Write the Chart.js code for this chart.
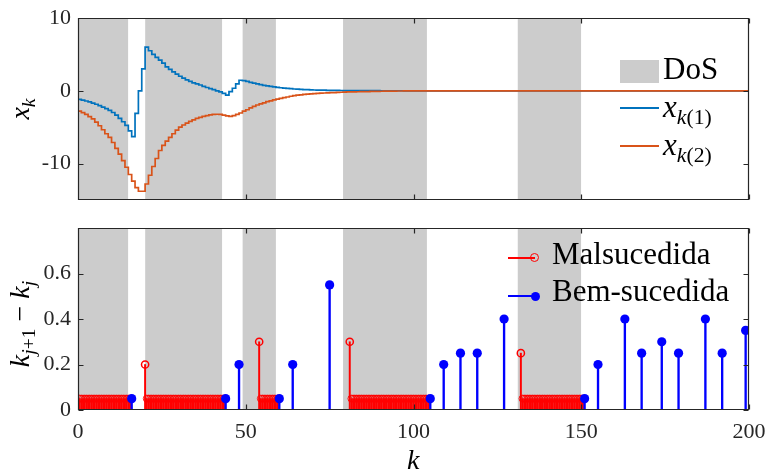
<!DOCTYPE html>
<html>
<head>
<meta charset="utf-8">
<script src="https://cdn.jsdelivr.net/npm/chart.js@4.4.0/dist/chart.umd.min.js"></script>
<style>
html,body{margin:0;padding:0;background:#fff;}
#wrap{position:relative;width:767px;height:474px;overflow:hidden;font-family:"Liberation Serif","DejaVu Serif",serif;color:#000;}
canvas{position:absolute;left:0;}
.lbl{position:absolute;white-space:nowrap;line-height:1;}
.rot{transform:translate(-50%,-50%) rotate(-90deg);}
.it{font-style:italic;}
.sb{font-size:0.7em;position:relative;top:0.32em;}
.sw{position:absolute;}
</style>
</head>
<body>
<div id="wrap">
  <canvas id="cTop" width="767" height="210" style="top:0px"></canvas>
  <canvas id="cBot" width="767" height="264" style="top:210px"></canvas>

  <!-- axis titles -->
  <div class="lbl rot" style="left:20px;top:109px;font-size:28px;"><span class="it">x</span><span class="sb it">k</span></div>
  <div class="lbl rot" style="left:20px;top:324px;font-size:28px;"><span class="it">k</span><span class="sb"><span class="it">j</span>+1</span> − <span class="it">k</span><span class="sb it">j</span></div>
  <div class="lbl" style="left:407px;top:446px;font-size:28px;"><span class="it">k</span></div>

  <!-- top legend -->
  <div class="sw" style="left:620px;top:60px;width:39px;height:23px;background:#cccccc;"></div>
  <div class="lbl" style="left:663px;top:53px;font-size:31px;">DoS</div>
  <div class="sw" style="left:620px;top:107px;width:39px;height:2px;background:#0072BD;"></div>
  <div class="lbl" style="left:663px;top:91px;font-size:31px;"><span class="it">x</span><span class="sb"><span class="it">k</span>(1)</span></div>
  <div class="sw" style="left:620px;top:145px;width:39px;height:2px;background:#D95319;"></div>
  <div class="lbl" style="left:663px;top:129px;font-size:31px;"><span class="it">x</span><span class="sb"><span class="it">k</span>(2)</span></div>

  <!-- bottom legend -->
  <div class="sw" style="left:508px;top:257px;width:27px;height:2px;background:#ff0000;"></div>
  <div class="sw" style="left:530px;top:253px;width:7px;height:7px;border:1.4px solid #ff0000;border-radius:50%;background:transparent;"></div>
  <div class="lbl" style="left:552px;top:238px;font-size:31px;">Malsucedida</div>
  <div class="sw" style="left:508px;top:295px;width:27px;height:2px;background:#0000ff;"></div>
  <div class="sw" style="left:531px;top:292px;width:9px;height:9px;border-radius:50%;background:#0000ff;"></div>
  <div class="lbl" style="left:552px;top:275px;font-size:31px;">Bem-sucedida</div>
</div>

<script>
// ---------------- DATA ----------------
// DoS attack intervals (k)
const dosStart = [0, 20, 49, 79, 131];
const dosEnd   = [15, 43, 59, 104, 150];

// state x_k(1), k = 0..200
const x1 = [
 -1.17,-1.28,-1.40,-1.53,-1.68,-1.85,-2.03,-2.23,-2.45,-2.70,
 -2.98,-3.35,-3.80,-4.25,-4.75,-5.50,-6.30,-3.10,0.00,3.00,
 6.00,5.50,5.00,4.60,4.20,3.80,3.30,2.95,2.60,2.30,
 2.00,1.75,1.50,1.30,1.10,0.95,0.80,0.60,0.45,0.30,
 0.15,0.00,-0.15,-0.35,-0.60,-0.10,0.35,0.95,1.45,1.40,
 1.30,1.15,1.05,0.95,0.85,0.75,0.68,0.60,0.53,0.47,
 0.42,0.37,0.33,0.29,0.25,0.22,0.19,0.17,0.15,0.13,
 0.11,0.10,0.09,0.08,0.07,0.06,0.05,0.045,0.04,0.035,
 0.03,0.028,0.025,0.022,0.02,0.018,0.016,0.014,0.012,0.011,
 0.01,0.009,0.008,0.007,0.006,0.005,0.004,0.003,0.002,0.001,
 0,
 0,0,0,0,0,0,0,0,0,0, 0,0,0,0,0,0,0,0,0,0,
 0,0,0,0,0,0,0,0,0,0, 0,0,0,0,0,0,0,0,0,0,
 0,0,0,0,0,0,0,0,0,0, 0,0,0,0,0,0,0,0,0,0,
 0,0,0,0,0,0,0,0,0,0, 0,0,0,0,0,0,0,0,0,0,
 0,0,0,0,0,0,0,0,0,0, 0,0,0,0,0,0,0,0,0,0
];
// state x_k(2), k = 0..200
const x2 = [
 -2.80,-3.00,-3.25,-3.55,-3.85,-4.30,-4.80,-5.35,-5.90,-6.40,
 -7.10,-7.90,-8.70,-9.60,-10.50,-11.50,-12.40,-13.30,-13.80,-13.80,
 -12.80,-11.60,-10.40,-9.30,-8.20,-7.50,-6.90,-6.40,-5.90,-5.40,
 -5.00,-4.70,-4.45,-4.20,-4.00,-3.80,-3.65,-3.50,-3.40,-3.30,
 -3.25,-3.22,-3.25,-3.35,-3.45,-3.50,-3.40,-3.25,-3.05,-2.80,
 -2.60,-2.35,-2.15,-1.95,-1.80,-1.65,-1.50,-1.38,-1.25,-1.15,
 -1.05,-0.95,-0.85,-0.75,-0.65,-0.60,-0.55,-0.50,-0.45,-0.42,
 -0.39,-0.35,-0.32,-0.30,-0.28,-0.26,-0.24,-0.22,-0.20,-0.18,
 -0.16,-0.15,-0.14,-0.13,-0.12,-0.11,-0.10,-0.09,-0.08,-0.07,
 -0.06,-0.05,-0.045,-0.04,-0.035,-0.03,-0.025,-0.02,-0.015,-0.01,
 -0.01,
 0,0,0,0,0,0,0,0,0,0, 0,0,0,0,0,0,0,0,0,0,
 0,0,0,0,0,0,0,0,0,0, 0,0,0,0,0,0,0,0,0,0,
 0,0,0,0,0,0,0,0,0,0, 0,0,0,0,0,0,0,0,0,0,
 0,0,0,0,0,0,0,0,0,0, 0,0,0,0,0,0,0,0,0,0,
 0,0,0,0,0,0,0,0,0,0, 0,0,0,0,0,0,0,0,0,0
];

// unsuccessful transmissions (Malsucedida): first attempt in each attack
const failK = [20, 54, 81, 132];
const failV = [0.20, 0.30, 0.30, 0.25];
// retries during attacks, all at the same interval value
const retryV = 0.05;
const retryK = [
 0.5,1,1.5,2,2.5,3,3.5,4,4.5,5,5.5,6,6.5,7,7.5,8,8.5,9,9.5,10,10.5,11,11.5,12,12.5,13,13.5,14,14.5,15,15.5,
 20.5,21,21.5,22,22.5,23,23.5,24,24.5,25,25.5,26,26.5,27,27.5,28,28.5,29,29.5,30,30.5,31,31.5,32,32.5,33,33.5,34,34.5,35,35.5,36,36.5,37,37.5,38,38.5,39,39.5,40,40.5,41,41.5,42,42.5,43,43.5,
 54.5,55,55.5,56,56.5,57,57.5,58,58.5,59,59.5,
 81.5,82,82.5,83,83.5,84,84.5,85,85.5,86,86.5,87,87.5,88,88.5,89,89.5,90,90.5,91,91.5,92,92.5,93,93.5,94,94.5,95,95.5,96,96.5,97,97.5,98,98.5,99,99.5,100,100.5,101,101.5,102,102.5,103,103.5,104,104.5,
 132.5,133,133.5,134,134.5,135,135.5,136,136.5,137,137.5,138,138.5,139,139.5,140,140.5,141,141.5,142,142.5,143,143.5,144,144.5,145,145.5,146,146.5,147,147.5,148,148.5,149,149.5,150,150.5
];
// successful transmissions (Bem-sucedida)
const okK = [16, 44, 48, 60, 64, 75, 105, 109, 114, 119, 127, 151, 155, 163, 168, 174, 179, 187, 192, 199];
const okV = [0.05,0.05,0.20,0.05,0.20,0.55,0.05,0.20,0.25,0.25,0.40,0.05,0.20,0.40,0.25,0.30,0.25,0.40,0.25,0.35];

// ticks
const xTicks = [0, 50, 100, 150, 200];
const xTickLabels = ['0', '50', '100', '150', '200'];
const yTopTicks = [-10, 0, 10];
const yTopTickLabels = ['-10', '0', '10'];
const yBotTicks = [0, 0.2, 0.4, 0.6];
const yBotTickLabels = ['0', '0.2', '0.4', '0.6'];

// ---------------- BUILD ----------------
const FONT = {family: '"Liberation Serif", "DejaVu Serif", serif', size: 22};
const AXC = '#262626';
const GRAY = '#cccccc';

function dosBand(top) {
  const pts = [];
  for (let i = 0; i < dosStart.length; i++) {
    pts.push({x: dosStart[i], y: top});
    pts.push({x: dosEnd[i], y: top});
    pts.push({x: dosEnd[i], y: null});
  }
  return pts;
}

function noPad(s) {
  s.paddingLeft = 0; s.paddingRight = 0; s.paddingTop = 0; s.paddingBottom = 0;
}

const boxPlugin = {
  id: 'boxTicks',
  afterDraw(c) {
    const {ctx, chartArea: a} = c;
    const xs = c.scales.x, ys = c.scales.y;
    const L = Math.round(a.left) + 0.5, R = Math.round(a.right) - 0.5;
    const T = Math.round(a.top) + 0.5, B = Math.round(a.bottom) - 0.5;
    ctx.save();
    ctx.strokeStyle = AXC;
    ctx.lineWidth = 1.2;
    ctx.beginPath();
    ctx.rect(L, T, R - L, B - T);
    const len = 5;
    xs.ticks.forEach(t => {
      const p = Math.round(xs.getPixelForValue(t.value)) + 0.5;
      ctx.moveTo(p, B); ctx.lineTo(p, B - len);
      ctx.moveTo(p, T); ctx.lineTo(p, T + len);
    });
    ys.ticks.forEach(t => {
      const p = Math.round(ys.getPixelForValue(t.value)) + 0.5;
      ctx.moveTo(L, p); ctx.lineTo(L + len, p);
      ctx.moveTo(R, p); ctx.lineTo(R - len, p);
    });
    ctx.stroke();
    ctx.restore();
  }
};

function yAxis(min, max, ticks, labels) {
  return {
    type: 'linear', min: min, max: max,
    grid: {display: false, drawTicks: false},
    border: {display: false},
    ticks: {font: FONT, color: AXC, padding: 7, callback: (v, i) => labels[i]},
    afterBuildTicks: s => { s.ticks = ticks.map(v => ({value: v})); },
    afterFit: s => { s.width = 78; noPad(s); }
  };
}

// top chart
new Chart(document.getElementById('cTop'), {
  type: 'line',
  data: {
    datasets: [
      {data: dosBand(10), fill: 'start', backgroundColor: GRAY, borderWidth: 0, pointRadius: 0, spanGaps: false, order: 3},
      {data: x1.map((v, i) => ({x: i, y: v})), borderColor: '#0072BD', borderWidth: 1.7, pointRadius: 0, stepped: true, fill: false, order: 2},
      {data: x2.map((v, i) => ({x: i, y: v})), borderColor: '#D95319', borderWidth: 1.7, pointRadius: 0, stepped: true, fill: false, order: 1}
    ]
  },
  options: {
    responsive: false, animation: false, events: [],
    layout: {padding: {top: 18, right: 18, bottom: 10, left: 0}},
    scales: {
      x: {
        type: 'linear', min: 0, max: 200,
        grid: {display: false, drawTicks: false}, border: {display: false},
        ticks: {display: false},
        afterBuildTicks: s => { s.ticks = xTicks.map(v => ({value: v})); },
        afterFit: s => { s.height = 0; noPad(s); }
      },
      y: yAxis(-15, 10, yTopTicks, yTopTickLabels)
    },
    plugins: {legend: {display: false}, tooltip: {enabled: false}}
  },
  plugins: [boxPlugin]
});

// bottom chart
const failPts = failK.map((k, i) => ({x: k, y: failV[i]}));
const retryPts = retryK.map(k => ({x: k, y: retryV}));
const redStem = failPts.concat(retryPts);
const blueStem = okK.map((k, i) => ({x: k, y: okV[i]}));

new Chart(document.getElementById('cBot'), {
  type: 'scatter',
  data: {
    datasets: [
      {type: 'line', data: dosBand(0.8), fill: 'start', backgroundColor: GRAY, borderWidth: 0, pointRadius: 0, spanGaps: false, showLine: true, order: 10},
      {type: 'bar', data: redStem, backgroundColor: '#ff0000', barThickness: 1.3, grouped: false, order: 6},
      {type: 'scatter', data: retryPts, pointRadius: 3.5, borderColor: '#ff0000', backgroundColor: 'rgba(0,0,0,0)', borderWidth: 0.9, order: 5},
      {type: 'scatter', data: failPts, pointRadius: 3.6, borderColor: '#ff0000', backgroundColor: 'rgba(0,0,0,0)', borderWidth: 1.5, order: 4},
      {type: 'bar', data: blueStem, backgroundColor: '#0000ff', barThickness: 1.7, grouped: false, order: 3},
      {type: 'scatter', data: blueStem, pointRadius: 4.6, backgroundColor: '#0000ff', borderColor: '#0000ff', borderWidth: 0, order: 2}
    ]
  },
  options: {
    responsive: false, animation: false, events: [],
    layout: {padding: {top: 18, right: 18, bottom: 0, left: 0}},
    scales: {
      x: {
        type: 'linear', min: 0, max: 200, offset: false,
        grid: {display: false, drawTicks: false}, border: {display: false},
        ticks: {font: FONT, color: AXC, padding: 9, maxRotation: 0, callback: (v, i) => xTickLabels[i]},
        afterBuildTicks: s => { s.ticks = xTicks.map(v => ({value: v})); },
        afterFit: s => { s.height = 64; noPad(s); }
      },
      y: yAxis(0, 0.8, yBotTicks, yBotTickLabels)
    },
    plugins: {legend: {display: false}, tooltip: {enabled: false}}
  },
  plugins: [boxPlugin]
});
</script>
</body>
</html>
